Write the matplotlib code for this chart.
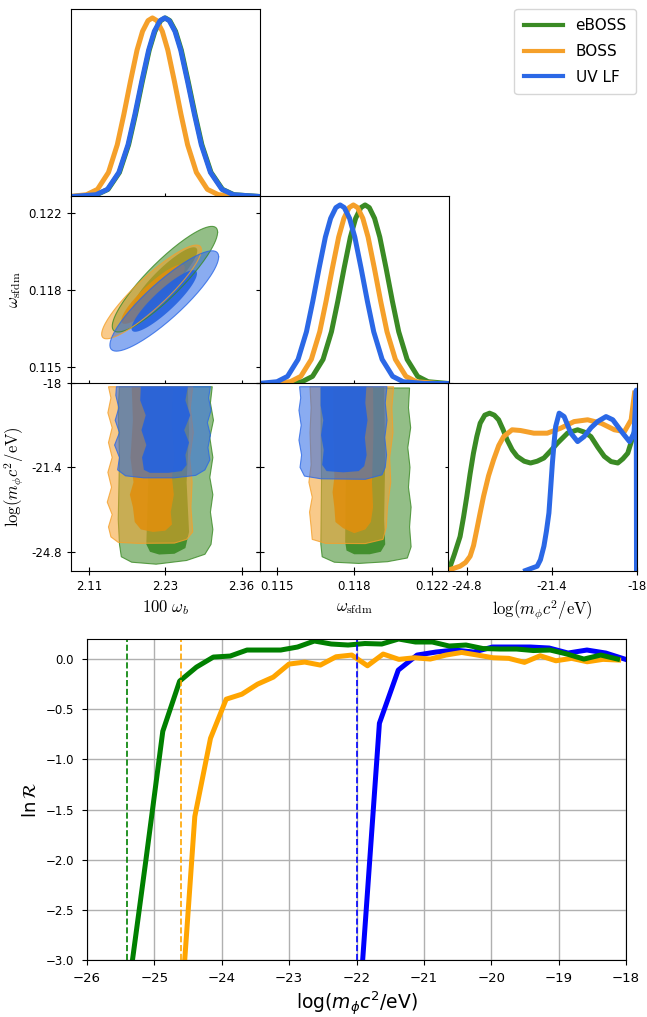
import numpy as np
import matplotlib
matplotlib.use('Agg')
import matplotlib.pyplot as plt
from matplotlib.lines import Line2D

labels = ['eBOSS', 'BOSS', 'UV LF']
tri_colors = ['#3a8a24', '#f5a02a', '#2b68e6']
tri_dark = ['#3a8a24', '#e0900e', '#2462e0']
line_colors = ['green', 'orange', 'blue']

# ---- triangle plot: axis ranges and ticks
wb_lim = (2.0806, 2.3894)
wb_ticks = [2.11, 2.235, 2.36]
wb_ticklabels = ['2.11', '2.23', '2.36']
sf_lim = (0.11424, 0.12276)
sf_ticks = [0.115, 0.1185, 0.122]
sf_ticklabels = ['0.115', '0.118', '0.122']
lm_lim = (-25.554, -18.0)
lm_ticks = [-24.8, -21.4, -18.0]
lm_ticklabels = ['-24.8', '-21.4', '-18']

# ---- 1D marginals, 100 omega_b
wb_x_eboss = [2.0806, 2.085, 2.1225, 2.1413, 2.160, 2.175, 2.1863, 2.1975, 2.2088, 2.2181, 2.2275, 2.235,
              2.2425, 2.2519, 2.2613, 2.2725, 2.2838, 2.295, 2.310, 2.3288, 2.3475, 2.3894]
wb_p_eboss = [0.0, 0.0003, 0.010, 0.040, 0.135, 0.290, 0.460, 0.645, 0.820, 0.925, 0.985, 1.0,
              0.985, 0.925, 0.820, 0.645, 0.460, 0.290, 0.135, 0.040, 0.010, 0.0]
wb_x_boss = [2.0806, 2.106, 2.124, 2.142, 2.1564, 2.1672, 2.178, 2.1888, 2.1978, 2.2068, 2.214,
             2.2212, 2.2302, 2.2392, 2.250, 2.2608, 2.2716, 2.286, 2.304, 2.322, 2.358, 2.3894]
wb_p_boss = [0.001, 0.010, 0.040, 0.135, 0.290, 0.460, 0.645, 0.820, 0.925, 0.985, 1.0,
             0.985, 0.925, 0.820, 0.645, 0.460, 0.290, 0.135, 0.040, 0.010, 0.0003, 0.0]
wb_x_uv = [2.0806, 2.084, 2.1215, 2.1403, 2.159, 2.174, 2.1853, 2.1965, 2.2078, 2.2171, 2.2265, 2.234,
           2.2415, 2.2509, 2.2603, 2.2715, 2.2828, 2.294, 2.309, 2.3278, 2.3465, 2.3894]
wb_p_uv = [0.0, 0.0003, 0.010, 0.040, 0.135, 0.290, 0.460, 0.645, 0.820, 0.925, 0.985, 1.0,
           0.985, 0.925, 0.820, 0.645, 0.460, 0.290, 0.135, 0.040, 0.010, 0.0]

# ---- 1D marginals, omega_sfdm
sf_x_eboss = [0.11424, 0.11519, 0.11614, 0.116615, 0.11709, 0.11747, 0.117755, 0.11804, 0.118325, 0.118563,
              0.1188, 0.11899, 0.11918, 0.119418, 0.119655, 0.11994, 0.120225, 0.12051, 0.12089, 0.121365,
              0.12184, 0.12276]
sf_p_eboss = [0.0, 0.0003, 0.010, 0.040, 0.135, 0.290, 0.460, 0.645, 0.820, 0.925,
              0.985, 1.0, 0.985, 0.925, 0.820, 0.645, 0.460, 0.290, 0.135, 0.040,
              0.010, 0.0]
sf_x_boss = [0.11424, 0.11466, 0.11561, 0.116085, 0.11656, 0.11694, 0.117225, 0.11751, 0.117795, 0.118033,
             0.11827, 0.11846, 0.11865, 0.118888, 0.119125, 0.11941, 0.119695, 0.11998, 0.12036, 0.120835,
             0.12131, 0.12226, 0.12276]
sf_p_boss = [0.0, 0.0003, 0.010, 0.040, 0.135, 0.290, 0.460, 0.645, 0.820, 0.925,
             0.985, 1.0, 0.985, 0.925, 0.820, 0.645, 0.460, 0.290, 0.135, 0.040,
             0.010, 0.0003, 0.0]
sf_x_uv = [0.11424, 0.11501, 0.115485, 0.11596, 0.11634, 0.116625, 0.11691, 0.117195, 0.117433,
           0.11767, 0.11786, 0.11805, 0.118288, 0.118525, 0.11881, 0.119095, 0.11938, 0.11976, 0.120235,
           0.12071, 0.12166, 0.12276]
sf_p_uv = [0.0007, 0.010, 0.040, 0.135, 0.290, 0.460, 0.645, 0.820, 0.925,
           0.985, 1.0, 0.985, 0.925, 0.820, 0.645, 0.460, 0.290, 0.135, 0.040,
           0.010, 0.0003, 0.0]

# ---- 1D marginals, log(m c^2/eV)
lm_x_eboss = [-25.554, -25.45, -25.30, -25.07, -24.93, -24.80, -24.67, -24.534, -24.40, -24.264, -24.08,
              -23.888, -23.70, -23.525, -23.35, -23.187, -22.98, -22.784, -22.50, -22.247, -21.98, -21.71,
              -21.44, -21.17, -20.76, -20.36, -20.09, -19.827, -19.55, -19.29, -19.02, -18.75, -18.55,
              -18.35, -18.145, -18.02]
lm_p_eboss = [0.0, 0.03, 0.09, 0.19, 0.30, 0.415, 0.54, 0.657, 0.75, 0.825, 0.87,
              0.881, 0.87, 0.844, 0.79, 0.732, 0.675, 0.639, 0.612, 0.602, 0.612, 0.630,
              0.67, 0.713, 0.77, 0.788, 0.775, 0.750, 0.69, 0.639, 0.61, 0.602, 0.625,
              0.657, 0.750, 0.806]
lm_x_boss = [-25.554, -25.473, -25.07, -24.85, -24.667, -24.53, -24.40, -24.27, -24.13, -23.93, -23.727,
             -23.52, -23.324, -22.985, -22.65, -22.114, -21.576, -21.04, -20.50, -19.96, -19.42,
             -18.886, -18.483, -18.214, -18.08]
lm_p_boss = [0.0, 0.005, 0.024, 0.045, 0.08, 0.14, 0.229, 0.32, 0.415, 0.53, 0.620,
             0.70, 0.750, 0.788, 0.784, 0.769, 0.769, 0.797, 0.834, 0.844, 0.825,
             0.788, 0.778, 0.844, 0.993]
lm_x_uv = [-22.445, -21.98, -21.85, -21.71, -21.61, -21.51, -21.44, -21.37, -21.30, -21.24, -21.10,
           -20.90, -20.63, -20.36, -20.10, -19.82, -19.56, -19.22, -18.95, -18.55, -18.28, -18.10,
           -18.01, -18.0]
lm_p_uv = [0.0, 0.024, 0.06, 0.136, 0.22, 0.322, 0.46, 0.602, 0.72, 0.806, 0.881,
           0.862, 0.769, 0.722, 0.750, 0.80, 0.834, 0.862, 0.844, 0.769, 0.722, 0.769,
           1.01, 0.0]

# ---- 2D contours, 100 omega_b vs omega_sfdm: (centre x, centre y, x half-extent, y half-extent, correlation)
wbsf_eboss = [(2.2345, 0.11898, 0.0863, 0.00240, 0.89), (2.2345, 0.11898, 0.0530, 0.00145, 0.89)]
wbsf_boss = [(2.2125, 0.11840, 0.0817, 0.00213, 0.90), (2.2150, 0.11830, 0.0520, 0.00135, 0.89)]
wbsf_uv = [(2.2334, 0.11799, 0.0891, 0.00228, 0.88), (2.2334, 0.11799, 0.0536, 0.00140, 0.89)]

# ---- 2D contours, 100 omega_b vs log m (outlines)
wblm_eboss_out = [(2.160, -18.15), (2.312, -18.15), (2.309, -18.8), (2.314, -19.5), (2.308, -20.2), (2.313, -21.0),
                  (2.308, -21.8), (2.313, -22.5), (2.309, -23.2), (2.313, -23.9), (2.310, -24.5), (2.300, -24.9),
                  (2.270, -25.15), (2.220, -25.30), (2.180, -25.22), (2.163, -25.0), (2.160, -24.5), (2.158, -23.5),
                  (2.160, -21.0), (2.158, -19.0)]
wblm_eboss_in = [(2.205, -18.15), (2.272, -18.15), (2.274, -20.0), (2.270, -22.0), (2.274, -24.0), (2.268, -24.65),
                 (2.250, -24.88), (2.225, -24.91), (2.210, -24.8), (2.204, -24.5), (2.207, -22.0), (2.203, -20.0)]
wblm_boss_out = [(2.142, -18.15), (2.280, -18.15), (2.276, -19.0), (2.281, -20.0), (2.275, -21.0), (2.279, -22.0),
                 (2.277, -23.0), (2.280, -24.0), (2.270, -24.3), (2.250, -24.45), (2.190, -24.46), (2.158, -24.42),
                 (2.146, -24.2), (2.142, -23.8), (2.148, -23.3), (2.140, -22.8), (2.147, -22.2), (2.141, -21.6),
                 (2.148, -21.0), (2.142, -20.4), (2.148, -19.8), (2.141, -19.2), (2.146, -18.6)]
wblm_boss_in = [(2.180, -18.15), (2.248, -18.15), (2.245, -19.5), (2.250, -21.0), (2.246, -21.8), (2.249, -22.5),
                (2.244, -23.2), (2.246, -23.7), (2.235, -23.95), (2.215, -24.0), (2.195, -23.9), (2.185, -23.6),
                (2.182, -23.0), (2.177, -22.5), (2.183, -22.0), (2.178, -21.0), (2.182, -19.5)]
wblm_uv_out = [(2.155, -18.15), (2.309, -18.15), (2.306, -18.6), (2.310, -19.1), (2.304, -19.6), (2.309, -20.1),
               (2.305, -20.6), (2.308, -21.1), (2.300, -21.5), (2.285, -21.72), (2.250, -21.82), (2.200, -21.82),
               (2.170, -21.74), (2.157, -21.5), (2.160, -21.0), (2.152, -20.5), (2.160, -20.0), (2.153, -19.5),
               (2.159, -19.0), (2.154, -18.5)]
wblm_uv_in = [(2.195, -18.15), (2.272, -18.15), (2.268, -18.7), (2.276, -19.3), (2.266, -19.9), (2.274, -20.4),
              (2.268, -20.9), (2.270, -21.3), (2.262, -21.55), (2.240, -21.62), (2.210, -21.62), (2.200, -21.5),
              (2.197, -21.0), (2.204, -20.5), (2.196, -19.9), (2.203, -19.3), (2.194, -18.7)]

# ---- 2D contours, omega_sfdm vs log m (outlines)
sflm_eboss_out = [(0.11700, -18.2), (0.12100, -18.2), (0.12095, -19.0), (0.12105, -19.8), (0.12092, -20.6),
                  (0.12102, -21.4), (0.12095, -22.2), (0.12107, -23.0), (0.12100, -23.8), (0.12107, -24.6),
                  (0.12090, -25.05), (0.12000, -25.2), (0.11870, -25.27), (0.11760, -25.22), (0.11705, -25.0),
                  (0.11699, -24.5), (0.11702, -22.0), (0.11700, -19.0)]
sflm_eboss_in = [(0.11810, -18.15), (0.11985, -18.15), (0.11990, -21.0), (0.11985, -23.5), (0.11990, -24.5),
                 (0.11970, -24.8), (0.11920, -24.9), (0.11850, -24.9), (0.11815, -24.75), (0.11809, -24.4),
                 (0.11812, -21.0)]
sflm_boss_out = [(0.11650, -18.15), (0.12028, -18.15), (0.12020, -19.0), (0.12025, -20.0), (0.12010, -21.0),
                 (0.12015, -22.0), (0.12000, -23.0), (0.11995, -23.8), (0.11980, -24.3), (0.11900, -24.47),
                 (0.11720, -24.46), (0.11660, -24.3), (0.11655, -23.8), (0.11648, -23.2), (0.11660, -22.6),
                 (0.11645, -22.0), (0.11655, -21.3), (0.11650, -20.0), (0.11655, -19.0)]
sflm_boss_in = [(0.11755, -18.15), (0.11935, -18.15), (0.11937, -20.0), (0.11930, -22.0), (0.11935, -23.0),
                (0.11925, -23.6), (0.11900, -23.9), (0.11850, -24.05), (0.11800, -23.85), (0.11765, -23.6),
                (0.11760, -23.0), (0.11752, -22.4), (0.11760, -21.8), (0.11755, -20.0)]
sflm_uv_out = [(0.11603, -18.15), (0.11998, -18.15), (0.11990, -18.8), (0.11998, -19.5), (0.11988, -20.2),
               (0.11996, -20.9), (0.11990, -21.4), (0.11975, -21.7), (0.11900, -21.88), (0.11700, -21.86),
               (0.11625, -21.75), (0.11605, -21.4), (0.11612, -20.9), (0.11600, -20.3), (0.11610, -19.7),
               (0.11600, -19.1), (0.11608, -18.6)]
sflm_uv_in = [(0.11698, -18.15), (0.11905, -18.15), (0.11900, -18.8), (0.11910, -19.5), (0.11898, -20.2),
              (0.11906, -20.9), (0.11895, -21.35), (0.11870, -21.55), (0.11800, -21.6), (0.11725, -21.55),
              (0.11705, -21.3), (0.11712, -20.7), (0.11700, -20.1), (0.11710, -19.5), (0.11698, -18.9)]

# ---- bottom panel: ln R against log(m c^2/eV)
eboss_x = [-25.375, -25.125, -24.875, -24.625, -24.375, -24.125, -23.875, -23.625, -23.375, -23.125,
           -22.875, -22.625, -22.375, -22.125, -21.875, -21.625, -21.375, -21.125, -20.875, -20.625,
           -20.375, -20.125, -19.875, -19.625, -19.375, -19.125, -18.875, -18.625, -18.375, -18.125]
eboss_r = [-3.25, -2.0, -0.72, -0.22, -0.08, 0.02, 0.03, 0.09, 0.09, 0.09,
           0.12, 0.18, 0.15, 0.14, 0.155, 0.15, 0.20, 0.17, 0.17, 0.13,
           0.14, 0.105, 0.10, 0.10, 0.085, 0.09, 0.05, 0.0, 0.04, 0.0]
boss_x = [-24.633, -24.400, -24.167, -23.934, -23.701, -23.468, -23.235, -23.002, -22.769, -22.536,
          -22.303, -22.070, -21.837, -21.604, -21.371, -21.138, -20.905, -20.672, -20.439, -20.206,
          -19.973, -19.740, -19.507, -19.274, -19.041, -18.808, -18.575, -18.342, -18.109]
boss_r = [-3.8, -1.57, -0.79, -0.40, -0.35, -0.25, -0.18, -0.05, -0.03, -0.06,
          0.023, 0.04, -0.067, 0.05, -0.003, 0.013, 0.0, 0.04, 0.066, 0.04,
          0.013, 0.007, -0.033, 0.033, -0.017, 0.007, -0.027, -0.003, -0.01]
uv_x = [-21.94, -21.66, -21.38, -21.10, -20.82, -20.54, -20.26, -19.98, -19.70, -19.42,
        -19.14, -18.86, -18.58, -18.30, -18.02]
uv_r = [-3.3, -0.64, -0.11, 0.04, 0.07, 0.09, 0.07, 0.12, 0.12, 0.12,
        0.11, 0.06, 0.09, 0.06, 0.0]
bound_x = [-25.4, -24.6, -22.0]

W, H = 647, 1017
fig = plt.figure(figsize=(W / 100, H / 100), dpi=100)


def px_axes(left, top, width, height):
    return fig.add_axes([left / W, 1 - (top + height) / H, width / W, height / H])


def ellipse_xy(cx, cy, hx, hy, rho):
    t = np.linspace(0, 2 * np.pi, 160)
    return cx + hx * np.cos(t), cy + hy * (rho * np.cos(t) + np.sqrt(1 - rho ** 2) * np.sin(t))


cols = [71, 260, 448]
rows = [9, 196, 383]
pw, ph = 188.5, 187.5

ax00 = px_axes(cols[0], rows[0], pw, ph)
ax10 = px_axes(cols[0], rows[1], pw, ph)
ax11 = px_axes(cols[1], rows[1], pw, ph)
ax20 = px_axes(cols[0], rows[2], pw, ph)
ax21 = px_axes(cols[1], rows[2], pw, ph)
ax22 = px_axes(cols[2], rows[2], pw, ph)

# 1D panels
for ax, xs, ps, lim, ticks in [
        (ax00, [wb_x_eboss, wb_x_boss, wb_x_uv], [wb_p_eboss, wb_p_boss, wb_p_uv], wb_lim, wb_ticks),
        (ax11, [sf_x_eboss, sf_x_boss, sf_x_uv], [sf_p_eboss, sf_p_boss, sf_p_uv], sf_lim, sf_ticks),
        (ax22, [lm_x_eboss, lm_x_boss, lm_x_uv], [lm_p_eboss, lm_p_boss, lm_p_uv], lm_lim, lm_ticks)]:
    for i in range(3):
        ax.plot(xs[i], ps[i], color=tri_colors[i], lw=3.6, solid_joinstyle='round')
    ax.set_xlim(lim)
    ax.set_ylim(0, 1.05)
    ax.set_xticks(ticks)
    ax.set_yticks([])
    ax.tick_params(axis='x', direction='inout', length=6, labelbottom=False, labelsize=8.5)

# 2D: omega_b vs omega_sfdm
for i, ells in enumerate([wbsf_eboss, wbsf_boss, wbsf_uv]):
    x, y = ellipse_xy(*ells[0])
    ax10.fill(x, y, color=tri_colors[i], alpha=0.55, lw=0)
    ax10.plot(x, y, color=tri_colors[i], lw=0.8, alpha=0.8)
    x, y = ellipse_xy(*ells[1])
    ax10.fill(x, y, color=tri_dark[i], alpha=0.9, lw=0)

# 2D: log m panels
for ax, regs in [(ax20, [(wblm_eboss_out, wblm_eboss_in), (wblm_boss_out, wblm_boss_in), (wblm_uv_out, wblm_uv_in)]),
                 (ax21, [(sflm_eboss_out, sflm_eboss_in), (sflm_boss_out, sflm_boss_in), (sflm_uv_out, sflm_uv_in)])]:
    for i, (outer, inner) in enumerate(regs):
        ox, oy = zip(*outer)
        ax.fill(ox, oy, color=tri_colors[i], alpha=0.55, lw=0)
        ax.fill(ox, oy, fill=False, edgecolor=tri_colors[i], lw=0.8, alpha=0.8)
        ix, iy = zip(*inner)
        ax.fill(ix, iy, color=tri_dark[i], alpha=0.9, lw=0)

for ax, xl, xt, yl, yt in [(ax10, wb_lim, wb_ticks, sf_lim, sf_ticks),
                           (ax20, wb_lim, wb_ticks, lm_lim, lm_ticks),
                           (ax21, sf_lim, sf_ticks, lm_lim, lm_ticks)]:
    ax.set_xlim(xl)
    ax.set_ylim(yl)
    ax.set_xticks(xt)
    ax.set_yticks(yt)
    ax.tick_params(direction='inout', length=6, right=True, labelsize=8.5)

ax10.tick_params(labelbottom=False)
ax21.tick_params(labelleft=False)
ax10.set_yticklabels(sf_ticklabels)
ax20.set_yticklabels(lm_ticklabels)
ax20.set_xticklabels(wb_ticklabels)
ax21.set_xticklabels(sf_ticklabels)
ax22.set_xticklabels(lm_ticklabels)
ax22.tick_params(axis='x', labelbottom=True)

ax10.set_ylabel(r'$\omega_{\rm sfdm}$', fontsize=12, math_fontfamily='cm')
ax20.set_ylabel(r'$\log(m_\phi c^2/\mathrm{eV})$', fontsize=12, math_fontfamily='cm')
ax20.set_xlabel(r'$100\ \omega_b$', fontsize=12, math_fontfamily='cm')
ax21.set_xlabel(r'$\omega_{\rm sfdm}$', fontsize=12, math_fontfamily='cm')
ax22.set_xlabel(r'$\log(m_\phi c^2/\mathrm{eV})$', fontsize=12, math_fontfamily='cm')

handles = [Line2D([], [], color=c, lw=3) for c in tri_colors]
fig.legend(handles, labels, loc='upper right', bbox_to_anchor=(636 / W, 1 - 9 / H),
           fontsize=11, handlelength=2.6, labelspacing=0.7, borderpad=0.6, borderaxespad=0)

# bottom panel
axb = px_axes(87, 639, 539, 321)
axb.plot(uv_x, uv_r, color=line_colors[2], lw=3.6)
axb.plot(boss_x, boss_r, color=line_colors[1], lw=3.6)
axb.plot(eboss_x, eboss_r, color=line_colors[0], lw=3.6)
for xb, c in zip(bound_x, line_colors):
    axb.axvline(xb, color=c, ls='--', lw=1.2)
axb.set_xlim(-26, -18)
axb.set_ylim(-3.0, 0.2)
axb.set_xticks(np.arange(-26, -17, 1))
axb.set_yticks(np.arange(-3.0, 0.01, 0.5))
axb.grid(True, color='#b0b0b0', lw=1.0)
axb.tick_params(axis='x', labelsize=9.5, pad=5)
axb.tick_params(axis='y', labelsize=8.5, pad=6)
axb.set_xlabel(r'log($m_\phi c^2$/eV)', fontsize=13.5)
axb.set_ylabel(r'$\ln\mathcal{R}$', fontsize=13)

fig.savefig('out.png', dpi=100)
